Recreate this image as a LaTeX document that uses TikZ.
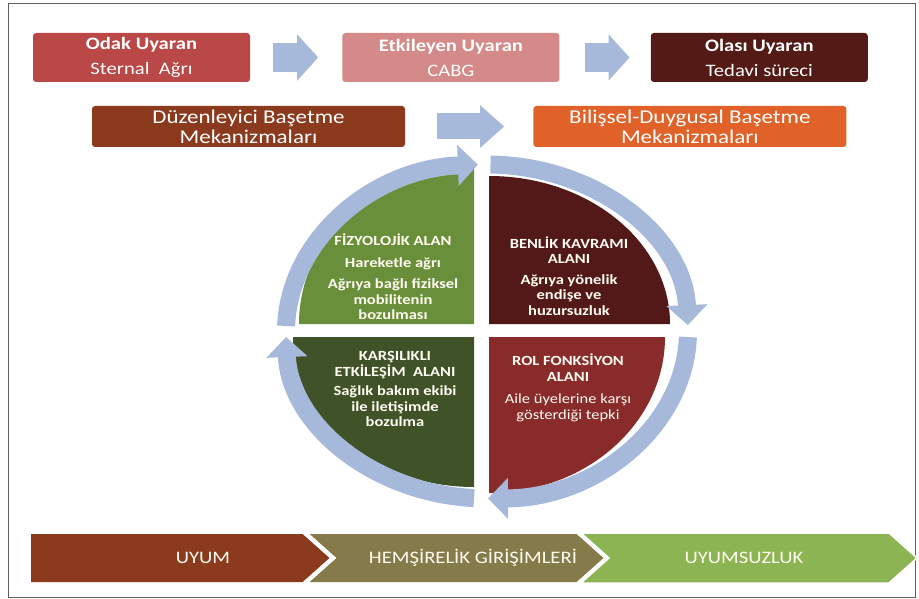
\documentclass[tikz,border=0pt]{standalone}
\usepackage{fontspec}
\setmainfont{Carlito}[FakeStretch=1.18]
\usetikzlibrary{arrows.meta,positioning,calc}

\definecolor{odakred}{RGB}{185,72,71}
\definecolor{etkpink}{RGB}{212,138,136}
\definecolor{olasimaroon}{RGB}{83,26,22}
\definecolor{duzbrown}{RGB}{139,58,30}
\definecolor{bilorange}{RGB}{224,98,40}
\definecolor{arrowblue}{RGB}{166,185,218}
\definecolor{fizgreen}{RGB}{106,143,58}
\definecolor{benlikred}{RGB}{83,24,24}
\definecolor{karsigreen}{RGB}{63,82,40}
\definecolor{rolred}{RGB}{138,43,43}
\definecolor{hemolive}{RGB}{133,123,74}
\definecolor{uyumsgreen}{RGB}{140,180,82}
\definecolor{textcream}{RGB}{255,252,242}
\definecolor{framegray}{RGB}{95,95,95}

\begin{document}
\begin{tikzpicture}[
    x=1pt, y=-1pt,
    node distance=92pt,
    topbox/.style={rounded corners=3pt, align=center, minimum width=217pt, minimum height=49pt, inner sep=0pt, text=white, font=\fontsize{17.5}{25}\selectfont},
    midbox/.style={rounded corners=3pt, align=center, minimum width=313pt, minimum height=41pt, inner sep=0pt, text=white, font=\fontsize{19.5}{20}\selectfont},
    fatarrow/.style={draw=arrowblue, line width=29pt, -{Triangle[length=21pt, width=45pt]}},
    ring/.style={draw=arrowblue, line width=18pt, -{Triangle[length=20pt, width=40pt]}},
    quadtext/.style={align=center, text=textcream, font=\bfseries\fontsize{14}{15.5}\selectfont},
    chev/.style={draw=white, line width=1.5pt},
    chevtext/.style={text=textcream, font=\fontsize{17.5}{19}\selectfont}
  ]
    \useasboundingbox (0,0) rectangle (919,599);
    \draw[framegray, line width=1pt] (8,4) rectangle (915,597);

    % stimuli
    \node[topbox, fill=odakred] (odak) at (141.5,57.5) {\textbf{Odak Uyaran}\\Sternal~ Ağrı};
    \node[topbox, fill=etkpink, right=of odak] (etk) {\textbf{Etkileyen Uyaran}\\CABG};
    \node[topbox, fill=olasimaroon, right=91pt of etk] (olasi) {\textbf{Olası Uyaran}\\Tedavi süreci};

    \node[midbox, fill=duzbrown] (duz) at (248.5,126.5) {Düzenleyici Başetme\\Mekanizmaları};
    \node[midbox, fill=bilorange, right=128pt of duz] (bil) {Bilişsel-Duygusal Başetme\\Mekanizmaları};

    \draw[fatarrow, shorten <=23pt, shorten >=24pt] (odak) -- (etk);
    \draw[fatarrow, shorten <=25pt, shorten >=21pt] (etk) -- (olasi);
    \draw[fatarrow, line width=26pt, -{Triangle[length=24pt, width=41pt]}, shorten <=32pt, shorten >=29pt] (duz) -- (bil);

    % adaptive modes
    \fill[fizgreen] (474,324) -- (299,324) arc[start angle=180, end angle=270, x radius=175, y radius=159] -- cycle;
    \fill[benlikred] (489,324) -- (489,176) arc[start angle=270, end angle=360, x radius=181, y radius=148] -- cycle;
    \fill[karsigreen] (474,337) -- (474,487) arc[start angle=90, end angle=180, x radius=181, y radius=150] -- cycle;
    \fill[rolred] (489,337) -- (665,337) arc[start angle=0, end angle=90, x radius=176, y radius=156] -- cycle;

    \coordinate (ringc) at (487,331.5);
    \draw[ring] ($(ringc)+(181.9:201 and 167)$) arc[start angle=181.9, end angle=267.4, x radius=201, y radius=167];
    \draw[ring] ($(ringc)+(271:201 and 167)$) arc[start angle=271, end angle=357.8, x radius=201, y radius=167];
    \draw[ring] ($(ringc)+(1.9:201 and 167)$) arc[start angle=1.9, end angle=89.7, x radius=201, y radius=167];
    \draw[ring] ($(ringc)+(93.7:201 and 167)$) arc[start angle=93.7, end angle=178.1, x radius=201, y radius=167];

    \node[quadtext] (fiz) at (393,277) {FİZYOLOJİK ALAN\\[6pt]Hareketle ağrı\\[6pt]Ağrıya bağlı fiziksel\\mobilitenin\\bozulması};
    \node[quadtext] (benlik) at (569,276) {BENLİK KAVRAMI\\ALANI\\[5pt]Ağrıya yönelik\\endişe ve\\huzursuzluk};
    \node[quadtext] (karsi) at (395,389) {KARŞILIKLI\\ETKİLEŞİM~ ALANI\\[4pt]Sağlık bakım ekibi\\ile iletişimde\\bozulma};
    \node[quadtext] (rol) at (568,388) {ROL FONKSİYON\\ALANI\\[7pt]{\mdseries Aile üyelerine karşı}\\{\mdseries gösterdiği tepki}};

    % outcome bar
    \fill[chev, fill=duzbrown] (30,533) -- (303,533) -- (331,558) -- (303,583) -- (30,583) -- cycle;
    \fill[chev, fill=hemolive] (307,533) -- (577,533) -- (605,558) -- (577,583) -- (307,583) -- (335,558) -- cycle;
    \fill[chev, fill=uyumsgreen] (581,533) -- (889,533) -- (917,558) -- (889,583) -- (581,583) -- (609,558) -- cycle;
    \draw[chev] (30,533) -- (303,533) -- (331,558) -- (303,583) -- (30,583) -- cycle;
    \draw[chev] (307,533) -- (577,533) -- (605,558) -- (577,583) -- (307,583) -- (335,558) -- cycle;

    \node[chevtext] (uyum) at (203,558) {UYUM};
    \node[chevtext] (hem) at (473,558) {HEMŞİRELİK GİRİŞİMLERİ};
    \node[chevtext] (uyumsuz) at (744,558) {UYUMSUZLUK};
\end{tikzpicture}
\end{document}
